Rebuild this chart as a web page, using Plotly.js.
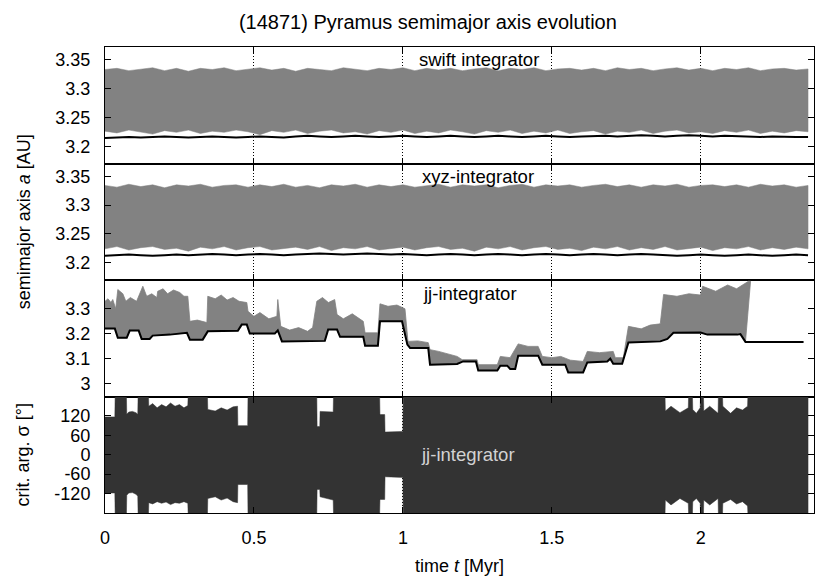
<!DOCTYPE html>
<html>
<head>
<meta charset="utf-8">
<script src="https://cdn.plot.ly/plotly-3.0.1.min.js"></script>
<style>html,body{margin:0;padding:0;background:#fff}#chart{width:815px;height:577px}</style>
</head>
<body>
<div id="chart"></div>
<script>
// ---------- data ----------
// time grid [Myr] for the swift / xyz integrator panels
const tGrid = [0,0.04,0.08,0.12,0.16,0.20,0.24,0.28,0.32,0.36,0.40,0.44,0.48,0.52,0.56,0.60,0.64,0.68,0.72,0.76,0.80,0.84,0.88,0.92,0.96,1.00,1.04,1.08,1.12,1.16,1.20,1.24,1.28,1.32,1.36,1.40,1.44,1.48,1.52,1.56,1.60,1.64,1.68,1.72,1.76,1.80,1.84,1.88,1.92,1.96,2.00,2.04,2.08,2.12,2.16,2.20,2.24,2.28,2.32,2.36];

// swift integrator: osculating a envelope (max / min) and mean a
const swiftMax = [3.333,3.335,3.331,3.334,3.336,3.331,3.335,3.330,3.335,3.333,3.336,3.331,3.334,3.336,3.332,3.335,3.330,3.335,3.333,3.331,3.336,3.334,3.331,3.335,3.333,3.336,3.331,3.335,3.332,3.335,3.331,3.334,3.336,3.331,3.335,3.333,3.336,3.331,3.334,3.335,3.332,3.335,3.331,3.336,3.333,3.335,3.331,3.334,3.336,3.332,3.335,3.331,3.335,3.333,3.336,3.331,3.334,3.335,3.332,3.334];
const swiftMin = [3.226,3.223,3.228,3.225,3.221,3.227,3.224,3.228,3.222,3.226,3.224,3.228,3.225,3.220,3.227,3.224,3.228,3.222,3.226,3.228,3.223,3.225,3.221,3.227,3.224,3.228,3.222,3.226,3.223,3.228,3.225,3.221,3.227,3.224,3.228,3.222,3.226,3.223,3.228,3.222,3.225,3.227,3.221,3.226,3.224,3.228,3.222,3.226,3.228,3.223,3.225,3.222,3.227,3.224,3.228,3.222,3.226,3.223,3.227,3.225];
const swiftMean = [3.214,3.215,3.216,3.215,3.216,3.217,3.216,3.215,3.216,3.217,3.216,3.215,3.216,3.217,3.216,3.215,3.217,3.218,3.217,3.216,3.217,3.218,3.217,3.216,3.217,3.218,3.217,3.216,3.217,3.218,3.217,3.216,3.217,3.218,3.217,3.216,3.217,3.218,3.217,3.216,3.217,3.218,3.218,3.217,3.218,3.219,3.218,3.217,3.218,3.219,3.218,3.217,3.218,3.217,3.217,3.216,3.217,3.216,3.216,3.216];

// xyz-integrator
const xyzMax = [3.334,3.331,3.336,3.332,3.335,3.330,3.335,3.333,3.336,3.331,3.334,3.335,3.331,3.335,3.332,3.336,3.331,3.334,3.330,3.335,3.333,3.336,3.331,3.335,3.332,3.335,3.331,3.334,3.336,3.331,3.335,3.333,3.335,3.330,3.334,3.336,3.331,3.335,3.333,3.335,3.331,3.334,3.336,3.332,3.335,3.331,3.335,3.333,3.336,3.331,3.334,3.335,3.332,3.335,3.331,3.336,3.333,3.335,3.331,3.334];
const xyzMin = [3.224,3.228,3.222,3.226,3.228,3.223,3.225,3.220,3.227,3.224,3.228,3.222,3.226,3.228,3.222,3.225,3.227,3.223,3.228,3.221,3.226,3.224,3.228,3.222,3.225,3.227,3.222,3.226,3.228,3.223,3.225,3.220,3.227,3.224,3.228,3.222,3.226,3.228,3.223,3.225,3.221,3.227,3.224,3.228,3.222,3.226,3.223,3.228,3.222,3.225,3.227,3.221,3.226,3.224,3.228,3.222,3.226,3.223,3.227,3.224];
const xyzMean = [3.212,3.213,3.214,3.213,3.212,3.213,3.214,3.213,3.214,3.215,3.214,3.213,3.214,3.215,3.214,3.213,3.214,3.215,3.216,3.215,3.214,3.215,3.216,3.215,3.214,3.215,3.214,3.213,3.214,3.215,3.214,3.213,3.214,3.215,3.214,3.213,3.214,3.215,3.214,3.213,3.214,3.215,3.214,3.213,3.214,3.215,3.214,3.213,3.212,3.213,3.214,3.213,3.212,3.213,3.214,3.213,3.212,3.213,3.214,3.213];

// jj-integrator: mean a (black line)
const jjMeanT = [0,0.033,0.043,0.073,0.083,0.113,0.123,0.150,0.160,0.218,0.275,0.285,0.328,0.345,0.446,0.459,0.476,0.486,0.570,0.580,0.594,0.738,0.749,0.779,0.789,0.867,0.873,0.916,0.923,0.997,1.015,1.024,1.085,1.091,1.182,1.202,1.245,1.253,1.317,1.327,1.350,1.360,1.377,1.387,1.454,1.468,1.545,1.555,1.605,1.619,1.686,1.696,1.706,1.736,1.757,1.864,1.888,1.908,1.999,2.022,2.123,2.133,2.150,2.345];
const jjMean  = [3.221,3.221,3.184,3.184,3.213,3.213,3.180,3.180,3.193,3.197,3.204,3.177,3.177,3.210,3.212,3.237,3.237,3.201,3.201,3.214,3.170,3.172,3.217,3.217,3.188,3.188,3.153,3.153,3.250,3.250,3.157,3.144,3.144,3.077,3.080,3.090,3.090,3.054,3.054,3.073,3.073,3.060,3.060,3.113,3.113,3.077,3.077,3.046,3.046,3.086,3.090,3.101,3.081,3.081,3.166,3.170,3.180,3.204,3.205,3.197,3.197,3.199,3.168,3.168];
// jj-integrator: osculating a upper envelope (grey)
const jjMaxT = [0,0.010,0.020,0.026,0.036,0.043,0.060,0.070,0.085,0.106,0.127,0.140,0.157,0.174,0.177,0.195,0.210,0.230,0.251,0.265,0.278,0.285,0.310,0.342,0.345,0.370,0.390,0.410,0.430,0.450,0.476,0.480,0.500,0.520,0.550,0.577,0.580,0.590,0.620,0.650,0.680,0.697,0.711,0.730,0.750,0.771,0.779,0.800,0.830,0.867,0.873,0.916,0.923,0.950,0.980,1.007,1.017,1.050,1.085,1.091,1.120,1.150,1.182,1.199,1.249,1.253,1.317,1.327,1.360,1.387,1.420,1.454,1.468,1.500,1.530,1.562,1.605,1.619,1.660,1.706,1.713,1.740,1.757,1.800,1.830,1.864,1.875,1.920,1.960,1.999,2.006,2.050,2.090,2.120,2.160,2.167];
const jjMax  = [3.330,3.340,3.325,3.337,3.300,3.377,3.360,3.330,3.345,3.330,3.390,3.350,3.360,3.345,3.370,3.380,3.360,3.375,3.365,3.350,3.350,3.250,3.255,3.245,3.350,3.340,3.355,3.335,3.345,3.330,3.325,3.290,3.270,3.285,3.260,3.270,3.337,3.230,3.215,3.225,3.210,3.225,3.330,3.345,3.325,3.337,3.277,3.260,3.280,3.250,3.204,3.204,3.320,3.310,3.315,3.300,3.170,3.172,3.165,3.137,3.130,3.120,3.110,3.097,3.097,3.077,3.077,3.110,3.105,3.160,3.150,3.150,3.110,3.105,3.110,3.095,3.090,3.130,3.125,3.130,3.105,3.105,3.230,3.220,3.235,3.240,3.357,3.350,3.360,3.355,3.390,3.370,3.395,3.380,3.410,3.410];

// jj-integrator: critical argument sigma envelope [deg]
const sigT   = [0,0.033,0.034,0.072,0.073,0.080,0.092,0.104,0.110,0.111,0.146,0.147,0.160,0.175,0.190,0.205,0.220,0.235,0.250,0.265,0.278,0.279,0.344,0.345,0.370,0.390,0.410,0.430,0.445,0.446,0.479,0.480,0.711,0.712,0.721,0.722,0.766,0.767,0.922,0.923,0.939,0.940,1.000,1.001,1.880,1.881,1.900,1.930,1.958,1.959,1.972,1.973,1.985,1.998,1.999,2.009,2.010,2.030,2.058,2.059,2.073,2.074,2.100,2.120,2.140,2.157,2.158,2.360];
const sigMax = [117,117,180,180,125,132,134,130,125,180,180,150,158,145,155,148,160,150,155,145,152,180,180,140,135,145,138,148,150,90,90,180,180,87,87,134,132,180,180,124,124,70,72,180,180,135,150,130,145,180,180,140,128,145,180,180,135,150,128,180,180,150,128,145,138,150,180,180];
const sigMin = [-118,-118,-180,-180,-125,-118,-117,-122,-128,-180,-180,-148,-152,-145,-150,-146,-154,-148,-150,-145,-150,-180,-180,-135,-130,-140,-134,-145,-148,-92,-92,-180,-180,-107,-107,-130,-140,-180,-180,-138,-138,-68,-70,-180,-180,-140,-155,-135,-150,-180,-180,-145,-135,-150,-180,-180,-140,-155,-135,-180,-180,-150,-138,-152,-145,-158,-180,-180];

// tick labels
const xTickVals = [0,0.5,1,1.5,2];
const xTickText = ['0','0.5','1','1.5','2'];
const aTickVals = [3.2,3.25,3.3,3.35];
const aTickText = ['3.2','3.25','3.3','3.35'];
const jjTickVals = [3,3.1,3.2,3.3];
const jjTickText = ['3','3.1','3.2','3.3'];
const sigTickVals = [-120,-60,0,60,120];
const sigTickText = ['-120','-60','0','60','120'];

// ---------- drawing ----------
const GREY = '#828282';
const DARK = '#333333';
const FONT = 'Liberation Sans, Arial, Helvetica, sans-serif';

function band(t, lo, hi, xa, ya, color) {
  return {
    type: 'scatter', mode: 'lines', xaxis: xa, yaxis: ya, hoverinfo: 'skip',
    x: t.concat(t.slice().reverse()),
    y: hi.concat(lo.slice().reverse()),
    fill: 'toself', fillcolor: color, line: {color: color, width: 0.5}, showlegend: false
  };
}
function meanLine(t, y, xa, ya) {
  return {type: 'scatter', mode: 'lines', x: t, y: y, xaxis: xa, yaxis: ya,
    line: {color: '#000', width: 2}, showlegend: false, hoverinfo: 'skip'};
}

// jj grey polygon: upper envelope, then the mean line back (limited to grey extent)
const jjLoT = [], jjLo = [];
for (let i = 0; i < jjMeanT.length; i++) {
  if (jjMeanT[i] <= jjMaxT[jjMaxT.length - 1]) { jjLoT.push(jjMeanT[i]); jjLo.push(jjMean[i]); }
}
const jjBand = {
  type: 'scatter', mode: 'lines', xaxis: 'x3', yaxis: 'y3', hoverinfo: 'skip',
  x: jjMaxT.concat(jjLoT.slice().reverse()),
  y: jjMax.concat(jjLo.slice().reverse()),
  fill: 'toself', fillcolor: GREY, line: {color: GREY, width: 0.8}, showlegend: false
};

const traces = [
  band(tGrid, swiftMin, swiftMax, 'x', 'y', GREY),
  meanLine(tGrid, swiftMean, 'x', 'y'),
  band(tGrid, xyzMin, xyzMax, 'x2', 'y2', GREY),
  meanLine(tGrid, xyzMean, 'x2', 'y2'),
  jjBand,
  meanLine(jjMeanT, jjMean, 'x3', 'y3'),
  band(sigT, sigMin, sigMax, 'x4', 'y4', DARK)
];

const axBase = {
  showline: true, linecolor: '#000', linewidth: 1, mirror: 'ticks',
  ticks: 'inside', ticklen: 6, tickwidth: 1, tickcolor: '#000', zeroline: false,
  tickfont: {family: FONT, size: 18, color: '#000'}
};
function xAx(anchor, labels) {
  return Object.assign({}, axBase, {
    anchor: anchor, domain: [0, 1], range: [0, 2.38],
    tickmode: 'array', tickvals: xTickVals, ticktext: xTickText,
    showticklabels: labels, showgrid: true, gridcolor: '#000', griddash: '1px,2px', gridwidth: 1
  });
}
function yAx(anchor, dom, range, tv, tt) {
  return Object.assign({}, axBase, {
    anchor: anchor, domain: dom, range: range, tickmode: 'array',
    tickvals: tv, ticktext: tt, showgrid: false, ticklabelstandoff: 10
  });
}

const x4 = xAx('y4', true);
x4.ticklabelstandoff = 8;
x4.title = {text: 'time <i>t</i> [Myr]', font: {family: FONT, size: 18, color: '#000'}, standoff: 12};

const y2 = yAx('x2', [0.5, 0.75], [3.17, 3.372], aTickVals, aTickText);
y2.title = {text: 'semimajor axis <i>a</i> [AU]', font: {family: FONT, size: 18, color: '#000'}, standoff: 20};
const y4 = yAx('x4', [0, 0.25], [-180, 180], sigTickVals, sigTickText);
y4.title = {text: 'crit. arg. σ [°]', font: {family: FONT, size: 18, color: '#000'}, standoff: 20};

const layout = {
  width: 815, height: 577,
  margin: {l: 105, r: 1, t: 47, b: 64},
  paper_bgcolor: '#fff', plot_bgcolor: '#fff',
  font: {family: FONT, size: 18, color: '#000'},
  title: {text: '(14871) Pyramus semimajor axis evolution', font: {family: FONT, size: 20, color: '#000'},
          x: 0.525, xref: 'container', xanchor: 'center', y: 0.962, yref: 'container', yanchor: 'middle'},
  xaxis: xAx('y', false),
  xaxis2: xAx('y2', false),
  xaxis3: xAx('y3', false),
  xaxis4: x4,
  yaxis: yAx('x', [0.75, 1], [3.17, 3.372], aTickVals, aTickText),
  yaxis2: y2,
  yaxis3: yAx('x3', [0.25, 0.5], [2.95, 3.415], jjTickVals, jjTickText),
  yaxis4: y4,
  annotations: [
    {text: 'swift integrator', x: 1.254, y: 3.351, xref: 'x', yref: 'y', showarrow: false,
     font: {family: FONT, size: 18.5, color: '#000'}},
    {text: 'xyz-integrator', x: 1.251, y: 3.350, xref: 'x2', yref: 'y2', showarrow: false,
     font: {family: FONT, size: 18.5, color: '#000'}},
    {text: 'jj-integrator', x: 1.224, y: 3.363, xref: 'x3', yref: 'y3', showarrow: false,
     font: {family: FONT, size: 18.5, color: '#000'}},
    {text: 'jj-integrator', x: 1.218, y: 2, xref: 'x4', yref: 'y4', showarrow: false,
     font: {family: FONT, size: 18.5, color: '#d2d2d2'}}
  ],
  showlegend: false
};

Plotly.newPlot('chart', traces, layout, {displayModeBar: false, staticPlot: true});
</script>
</body>
</html>
